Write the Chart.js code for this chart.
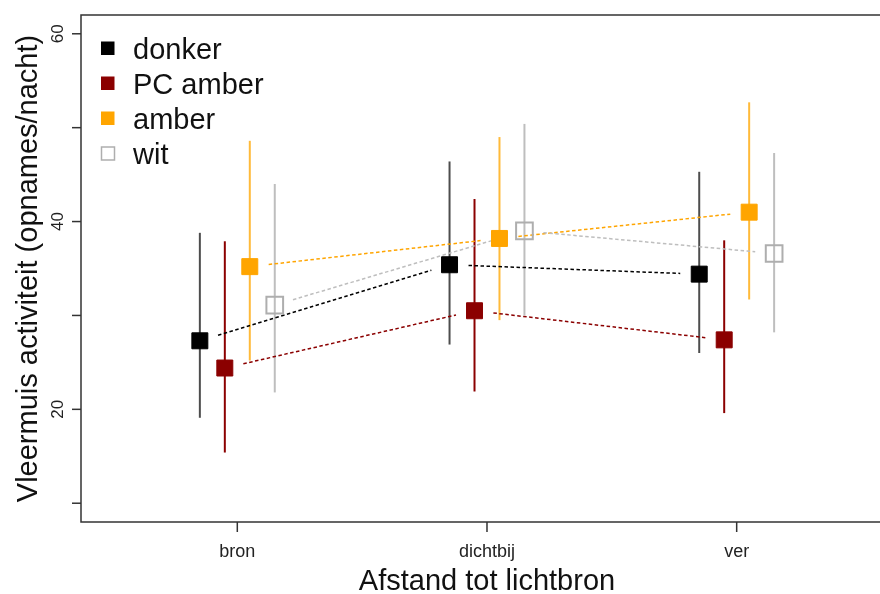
<!DOCTYPE html>
<html>
<head>
<meta charset="utf-8">
<script src="https://cdn.jsdelivr.net/npm/chart.js@4.4.1/dist/chart.umd.min.js"></script>
<style>
  html, body { margin: 0; padding: 0; background: #ffffff; overflow: hidden; }
  #wrap { width: 880px; height: 594px; }
</style>
</head>
<body>
<div id="wrap"><canvas id="c" width="880" height="594"></canvas></div>
<script>
// Distance classes along the x axis
const categories = ['bron', 'dichtbij', 'ver'];

// Lamp types
const seriesNames = ['donker', 'PC amber', 'amber', 'wit'];

// Mean bat activity (recordings per night) and interval bounds per lamp type
const donker      = [27.3, 35.4, 34.4];
const donkerLo    = [19.1, 26.9, 26.0];
const donkerHi    = [38.8, 46.4, 45.3];

const pcAmber     = [24.4, 30.5, 27.4];
const pcAmberLo   = [15.4, 21.9, 19.6];
const pcAmberHi   = [37.9, 42.4, 38.0];

const amber       = [35.2, 38.2, 41.0];
const amberLo     = [25.2, 29.5, 31.7];
const amberHi     = [48.6, 49.0, 52.7];

const wit         = [31.1, 39.0, 36.6];
const witLo       = [21.8, 30.0, 28.2];
const witHi       = [44.0, 50.4, 47.3];

// Axis ticks
const yTicks      = [10, 20, 30, 40, 50, 60];
const yTickLabels = ['', '20', '', '40', '', '60'];

const means  = [donker, pcAmber, amber, wit];
const lows   = [donkerLo, pcAmberLo, amberLo, witLo];
const highs  = [donkerHi, pcAmberHi, amberHi, witHi];

// Styling per lamp type
const dodge       = [-0.15, -0.05, 0.05, 0.15];
const pointFill   = ['#000000', '#8B0000', '#FFA500', 'rgba(255,255,255,0)'];
const pointEdge   = ['#000000', '#8B0000', '#FFA500', '#AEAEAE'];
const pointEdgeW  = [1, 1, 1, 2];
const pointRad    = [11.3, 11.3, 11.3, 11.8];
const barColor    = ['#4d4d4d', '#8B0000', '#FFBA3A', '#BEBEBE'];
const lineColor   = ['#000000', '#8B0000', '#FFA500', '#BEBEBE'];

const FONT = '"Liberation Sans", Arial, Helvetica, sans-serif';

const datasets = seriesNames.map((name, s) => ({
  label: name,
  data: means[s].map((v, j) => ({ x: j + 1 + dodge[s], y: v })),
  pointStyle: 'rect',
  pointRadius: pointRad[s],
  pointHoverRadius: pointRad[s],
  backgroundColor: pointFill[s],
  borderColor: pointEdge[s],
  borderWidth: pointEdgeW[s],
  showLine: false
}));

// Error bars and the dashed connectors (with gaps around each marker)
const underlay = {
  id: 'underlay',
  beforeDatasetsDraw(chart) {
    const ctx = chart.ctx;
    const xs = chart.scales.x, ys = chart.scales.y;
    ctx.save();
    // vertical interval bars
    seriesNames.forEach((_, s) => {
      ctx.strokeStyle = barColor[s];
      ctx.lineWidth = 2;
      ctx.setLineDash([]);
      means[s].forEach((v, j) => {
        const x = xs.getPixelForValue(j + 1 + dodge[s]);
        ctx.beginPath();
        ctx.moveTo(x, ys.getPixelForValue(lows[s][j]));
        ctx.lineTo(x, ys.getPixelForValue(highs[s][j]));
        ctx.stroke();
      });
    });
    // dashed connectors between distance classes
    const gap = 19;
    seriesNames.forEach((_, s) => {
      ctx.strokeStyle = lineColor[s];
      ctx.lineWidth = 1.5;
      ctx.setLineDash([3.5, 2.5]);
      for (let j = 0; j < means[s].length - 1; j++) {
        const x1 = xs.getPixelForValue(j + 1 + dodge[s]);
        const y1 = ys.getPixelForValue(means[s][j]);
        const x2 = xs.getPixelForValue(j + 2 + dodge[s]);
        const y2 = ys.getPixelForValue(means[s][j + 1]);
        const len = Math.hypot(x2 - x1, y2 - y1);
        const ux = (x2 - x1) / len, uy = (y2 - y1) / len;
        ctx.beginPath();
        ctx.moveTo(x1 + ux * gap, y1 + uy * gap);
        ctx.lineTo(x2 - ux * gap, y2 - uy * gap);
        ctx.stroke();
      }
    });
    ctx.restore();
  }
};

// Axes frame, ticks, labels, titles and legend
const frame = {
  id: 'frame',
  afterDraw(chart) {
    const ctx = chart.ctx;
    const xs = chart.scales.x, ys = chart.scales.y;
    const a = chart.chartArea;
    ctx.save();
    ctx.setLineDash([]);
    ctx.strokeStyle = '#333333';
    ctx.lineWidth = 1.5;
    // box (left, top, bottom)
    ctx.beginPath();
    ctx.moveTo(chart.width + 2, a.top);
    ctx.lineTo(a.left, a.top);
    ctx.lineTo(a.left, a.bottom);
    ctx.lineTo(chart.width + 2, a.bottom);
    ctx.stroke();

    // y ticks
    ctx.fillStyle = '#222222';
    ctx.font = '17px ' + FONT;
    yTicks.forEach((t, i) => {
      const y = ys.getPixelForValue(t);
      ctx.beginPath();
      ctx.moveTo(a.left, y);
      ctx.lineTo(a.left - 9, y);
      ctx.stroke();
      if (yTickLabels[i]) {
        ctx.save();
        ctx.translate(63, y);
        ctx.rotate(-Math.PI / 2);
        ctx.textAlign = 'center';
        ctx.textBaseline = 'alphabetic';
        ctx.fillText(yTickLabels[i], 0, 0);
        ctx.restore();
      }
    });

    // x ticks
    ctx.font = '18px ' + FONT;
    ctx.textAlign = 'center';
    ctx.textBaseline = 'alphabetic';
    categories.forEach((c, j) => {
      const x = xs.getPixelForValue(j + 1);
      ctx.beginPath();
      ctx.moveTo(x, a.bottom);
      ctx.lineTo(x, a.bottom + 10);
      ctx.stroke();
      ctx.fillText(c, x, 557);
    });

    // titles
    ctx.fillStyle = '#111111';
    ctx.font = '29px ' + FONT;
    ctx.fillText('Afstand tot lichtbron', xs.getPixelForValue(2), 590);
    ctx.save();
    ctx.translate(37, (a.top + a.bottom) / 2);
    ctx.rotate(-Math.PI / 2);
    ctx.fillText('Vleermuis activiteit (opnames/nacht)', 0, 0);
    ctx.restore();

    // legend
    const rowY = [48, 83, 118, 153];
    ctx.textAlign = 'left';
    seriesNames.forEach((name, s) => {
      const cy = rowY[s];
      if (s === 3) {
        ctx.strokeStyle = '#AEAEAE';
        ctx.lineWidth = 1.5;
        ctx.strokeRect(101.5, cy - 6, 13, 13);
      } else {
        ctx.fillStyle = pointFill[s];
        ctx.fillRect(101, cy - 6.5, 13.5, 13.5);
      }
      ctx.fillStyle = '#111111';
      ctx.fillText(name, 133, cy + 11);
    });
    ctx.restore();
  }
};

new Chart(document.getElementById('c'), {
  type: 'scatter',
  data: { datasets },
  options: {
    responsive: false,
    animation: false,
    devicePixelRatio: 1,
    layout: { autoPadding: false, padding: { left: 81, top: 15, right: 0, bottom: 72 } },
    scales: {
      x: { type: 'linear', min: 0.374, max: 3.574, display: false },
      y: { type: 'linear', min: 8, max: 62, display: false }
    },
    plugins: { legend: { display: false }, tooltip: { enabled: false } }
  },
  plugins: [underlay, frame]
});
</script>
</body>
</html>
